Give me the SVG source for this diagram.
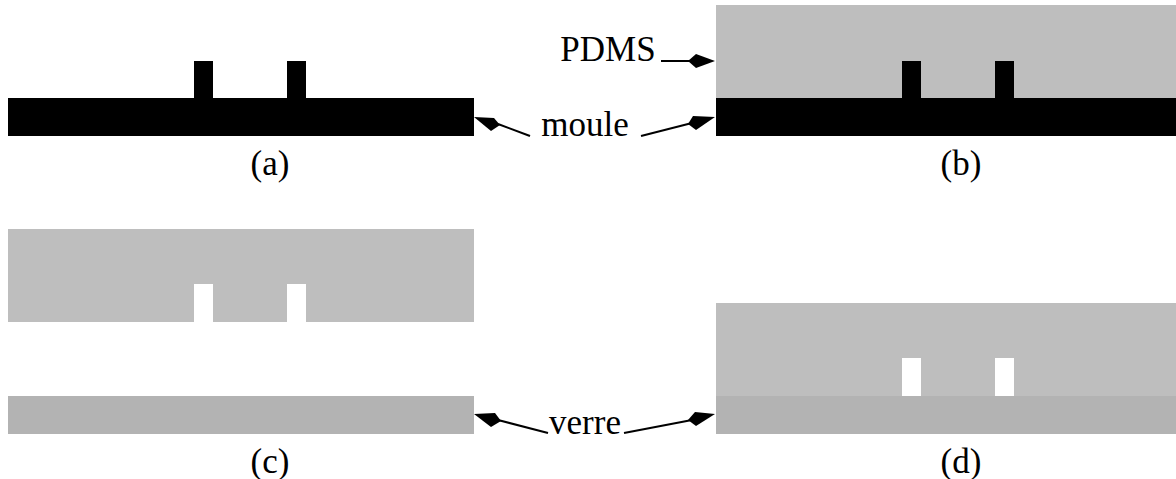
<svg xmlns="http://www.w3.org/2000/svg" width="1176" height="479" viewBox="0 0 1176 479">
<style>
.k{fill:#000}.p{fill:#bebebe}.g{fill:#b3b3b3}.w{fill:#fff}
text{font-family:"Liberation Serif","Times New Roman",serif;font-size:35px;fill:#000;text-anchor:middle}
.c line{stroke:#000;stroke-width:2}
.c polygon{fill:#000}
</style>
<rect width="1176" height="479" fill="#fff"/>
<g id="a"><rect class="k" x="8" y="98" width="466" height="38"/><rect class="k" x="194" y="61" width="19" height="37"/><rect class="k" x="287" y="61" width="19" height="37"/><text x="270" y="175">(a)</text></g>
<g id="b"><rect class="p" x="716" y="5" width="460" height="93"/><rect class="k" x="716" y="98" width="460" height="38"/><rect class="k" x="902" y="61" width="19" height="37"/><rect class="k" x="995" y="61" width="19" height="37"/><text x="961" y="175">(b)</text></g>
<g id="c"><rect class="p" x="8" y="229" width="466" height="93"/><rect class="w" x="194" y="284" width="19" height="38"/><rect class="w" x="287" y="284" width="19" height="38"/><rect class="g" x="8" y="396" width="466" height="38"/><text x="270" y="473" >(c)</text></g>
<g id="d"><rect class="p" x="716" y="303" width="460" height="93"/><rect class="w" x="902" y="358" width="19" height="38"/><rect class="w" x="995" y="358" width="19" height="38"/><rect class="g" x="716" y="396" width="460" height="38"/><text x="961" y="473">(d)</text></g>
<g id="labels"><text x="608" y="61">PDMS</text><text x="585" y="136">moule</text><text x="585" y="434">verre</text></g>
<g class="c" id="connectors">
<line x1="661" y1="61" x2="690" y2="61"/><polygon points="715,61 696,54 688,61 696,68"/>
<line x1="530" y1="136" x2="498" y2="124"/><polygon points="474,117 494,118 500,125 491,131"/>
<line x1="641" y1="136" x2="692" y2="123"/><polygon points="715,117 693,116 688,124 696,130"/>
<line x1="548" y1="433" x2="498" y2="420"/><polygon points="474,414 495,413 501,421 491,427"/>
<line x1="624" y1="433" x2="692" y2="420"/><polygon points="715,414 695,412 688,420 696,426"/>
</g>
</svg>
